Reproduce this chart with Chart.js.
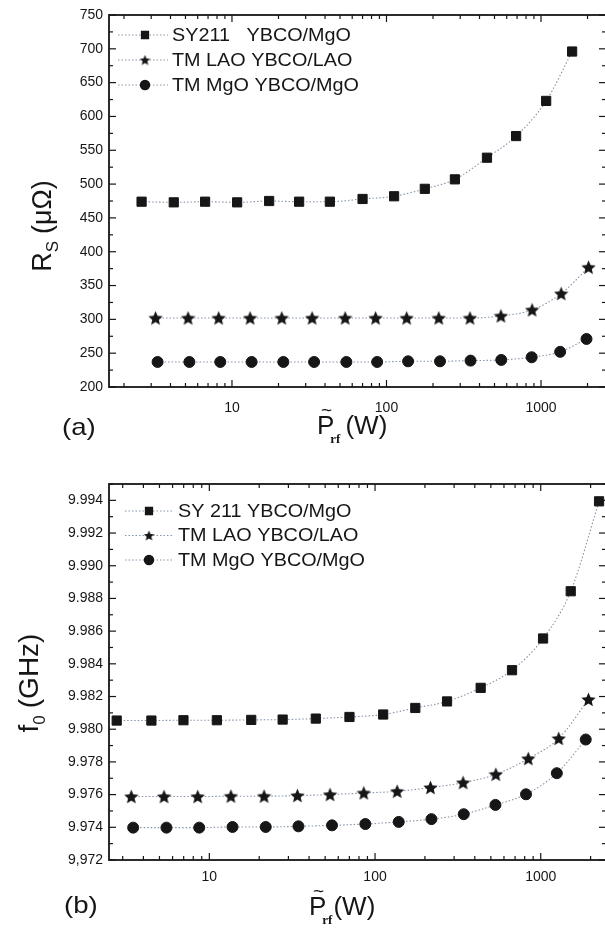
<!DOCTYPE html>
<html>
<head>
<meta charset="utf-8">
<script src="https://cdn.jsdelivr.net/npm/chart.js@4.4.1/dist/chart.umd.min.js"></script>
<style>
    html, body { margin: 0; padding: 0; background: #fff; width: 605px; height: 933px; overflow: hidden; }
    .panel { position: absolute; left: 0; }
    #rsBox { top: 0; }
    #f0Box { top: 460px; }
</style>
</head>
<body>
<div class="panel" id="rsBox"><canvas id="rsChart" width="620" height="460"></canvas></div>
<div class="panel" id="f0Box"><canvas id="f0Chart" width="620" height="473"></canvas></div>
<script>
// (a) surface resistance vs rf power
const rsPowerSY  = [2.6, 4.2, 6.7, 10.8, 17.4, 27.2, 43, 70, 112, 177, 277, 447, 690, 1080, 1590];
const rsSY       = [474, 473, 474, 473, 475, 474, 474, 478, 482, 493, 507, 539, 571, 623, 696];
const rsPowerLAO = [3.2, 5.2, 8.2, 13.1, 21, 33, 54, 85, 135, 218, 347, 550, 876, 1350, 2030];
const rsLAO      = [302, 302, 302, 302, 302, 302, 302, 302, 302, 302, 302, 305, 314, 338, 377];
const rsPowerMgO = [3.3, 5.3, 8.4, 13.4, 21.5, 34, 55, 87, 138, 222, 350, 553, 870, 1330, 1970];
const rsMgO      = [237, 237, 237, 237, 237, 237, 237, 237, 238, 238, 239, 240, 244, 252, 271];

// (b) resonant frequency vs rf power
const f0PowerSY  = [2.76, 4.47, 6.98, 11.1, 17.9, 27.7, 43.9, 70.1, 112, 175, 272, 434, 671, 1033, 1517, 2249];
const f0SY       = [9.98053, 9.98053, 9.98055, 9.98055, 9.98057, 9.98059, 9.98065, 9.98075, 9.9809, 9.9813, 9.9817, 9.98253, 9.98361, 9.98555, 9.98844, 9.99394];
const f0PowerLAO = [3.38, 5.33, 8.51, 13.5, 21.4, 34.0, 53.5, 85.5, 136, 216, 340, 536, 841, 1284, 1941];
const f0LAO      = [9.97588, 9.97588, 9.97588, 9.9759, 9.9759, 9.97594, 9.976, 9.9761, 9.9762, 9.97643, 9.97673, 9.97724, 9.9782, 9.97943, 9.98182];
const f0PowerMgO = [3.47, 5.51, 8.69, 13.8, 21.9, 34.5, 55.0, 87.4, 139, 219, 343, 533, 815, 1251, 1869];
const f0MgO      = [9.97398, 9.97398, 9.97398, 9.97402, 9.97402, 9.97406, 9.97412, 9.9742, 9.97433, 9.9745, 9.9748, 9.97537, 9.97602, 9.97731, 9.97937];

const xTicks = [10, 100, 1000];
const xTickLabels = ['10', '100', '1000'];
const rsTicks = [200, 250, 300, 350, 400, 450, 500, 550, 600, 650, 700, 750];
const rsTickLabels = ['200', '250', '300', '350', '400', '450', '500', '550', '600', '650', '700', '750'];
const f0Ticks = [9.972, 9.974, 9.976, 9.978, 9.980, 9.982, 9.984, 9.986, 9.988, 9.990, 9.992, 9.994];
const f0TickLabels = ['9,972', '9.974', '9.976', '9.978', '9.980', '9.982', '9.984', '9.986', '9.988', '9.990', '9.992', '9.994'];
const rsLegend = ['SY211   YBCO/MgO', 'TM LAO YBCO/LAO', 'TM MgO YBCO/MgO'];
const f0Legend = ['SY 211 YBCO/MgO', 'TM LAO YBCO/LAO', 'TM MgO YBCO/MgO'];

const SANS = '"Liberation Sans", Arial, Helvetica, sans-serif';
const SERIF = '"Liberation Serif", "Times New Roman", serif';
const INK = '#161616';
const LINK = '#8494aa';

function makeStar(size) {
    const c = document.createElement('canvas');
    c.width = size; c.height = size;
    const g = c.getContext('2d');
    const cx = size / 2, cy = size / 2 + size * 0.04, R = size / 2, r = R * 0.46;
    g.beginPath();
    for (let i = 0; i < 10; i++) {
        const a = -Math.PI / 2 + i * Math.PI / 5;
        const rad = i % 2 ? r : R;
        g.lineTo(cx + rad * Math.cos(a), cy + rad * Math.sin(a));
    }
    g.closePath();
    g.fillStyle = INK;
    g.fill();
    return c;
}

const starBig = makeStar(15);
const starSmall = makeStar(11);

function line(ctx, x1, y1, x2, y2) {
    ctx.beginPath(); ctx.moveTo(x1, y1); ctx.lineTo(x2, y2); ctx.stroke();
}

// text squeezed or stretched along x, the way the original figure was scaled
function wideText(ctx, txt, x, y, sx) {
    ctx.save();
    ctx.translate(x, y);
    ctx.scale(sx, 1);
    ctx.fillText(txt, 0, 0);
    ctx.restore();
}

// draws a run of text pieces; sub pieces shifted down (in text direction)
function drawRun(ctx, parts, x, y) {
    let cx = x;
    parts.forEach(p => {
        ctx.font = p.font;
        ctx.fillText(p.t, cx, y + (p.dy || 0));
        cx += ctx.measureText(p.t).width + (p.gap || 0);
    });
    return cx;
}
function runWidth(ctx, parts) {
    let w = 0;
    parts.forEach(p => { ctx.font = p.font; w += ctx.measureText(p.t).width + (p.gap || 0); });
    return w;
}

const decor = {
    id: 'decor',
    afterDraw(chart, args, o) {
        const { ctx, chartArea: a, scales: { x, y } } = chart;
        ctx.save();
        ctx.strokeStyle = INK;
        ctx.fillStyle = INK;

        // frame
        ctx.lineWidth = 1.8;
        ctx.strokeRect(a.left, a.top, a.right - a.left, a.bottom - a.top);

        // log ticks on bottom and top
        ctx.lineWidth = 1.2;
        for (let e = Math.floor(Math.log10(x.min)); e <= Math.ceil(Math.log10(x.max)); e++) {
            for (let k = 1; k <= 9; k++) {
                const v = k * Math.pow(10, e);
                if (v < x.min || v > x.max) continue;
                const px = x.getPixelForValue(v);
                const len = k === 1 ? 7 : 4;
                line(ctx, px, a.bottom, px, a.bottom - len);
                line(ctx, px, a.top, px, a.top + len);
            }
        }
        // linear ticks on left and right
        const n = Math.round((y.max - y.min) / o.yStep);
        for (let i = 0; i <= n; i++) {
            const py = y.getPixelForValue(y.min + i * o.yStep);
            const len = i % 2 === 0 ? 7 : 4;
            line(ctx, a.left, py, a.left + len, py);
            line(ctx, a.right, py, a.right - len, py);
        }

        // y title, rotated
        ctx.save();
        ctx.translate(o.yTitle.x, o.yTitle.y);
        ctx.rotate(-Math.PI / 2);
        ctx.textBaseline = 'alphabetic';
        const w = runWidth(ctx, o.yTitle.parts);
        drawRun(ctx, o.yTitle.parts, -w / 2, 0);
        ctx.restore();

        // x title with tilde over P
        ctx.textBaseline = 'alphabetic';
        const t = o.xTitle;
        ctx.font = t.big;
        const pw = ctx.measureText('P').width;
        ctx.fillText('P', t.x, t.y);
        ctx.font = '19px ' + SANS;
        ctx.textAlign = 'center';
        ctx.fillText('~', t.x + pw / 2 + 1, t.y - 18);
        ctx.textAlign = 'left';
        ctx.font = 'bold 13px ' + SERIF;
        ctx.fillText('rf', t.x + pw - 4, t.y + 9);
        const rw = ctx.measureText('rf').width;
        ctx.font = t.big;
        ctx.fillText(t.unit, t.x + pw - 4 + rw + t.gap, t.y);

        // panel label
        ctx.font = '24px ' + SANS;
        wideText(ctx, o.panel.t, o.panel.x, o.panel.y, 1.15);

        // legend
        const L = o.legend;
        ctx.font = '18px ' + SANS;
        ctx.textBaseline = 'middle';
        chart.data.datasets.forEach((ds, i) => {
            const ry = L.y + i * L.dy;
            ctx.save();
            ctx.strokeStyle = LINK;
            ctx.lineWidth = 1;
            ctx.setLineDash([1.5, 2]);
            line(ctx, L.x0, ry, L.x1, ry);
            ctx.restore();
            if (i === 1) {
                ctx.drawImage(starSmall, L.mx - 5.5, ry - 5.5);
            } else {
                Chart.helpers.drawPoint(ctx, {
                    pointStyle: ds.pointStyle, radius: i === 0 ? 5 : 4.6, borderWidth: 1
                }, L.mx, ry);
                ctx.fill();
            }
            ctx.fillStyle = INK;
            wideText(ctx, ds.label, L.tx, ry + 1, 1.1);
        });
        ctx.restore();
    }
};

function series(px, py, label, style, radius) {
    return {
        label: label,
        data: px.map((p, i) => ({ x: p, y: py[i] })),
        pointStyle: style,
        pointRadius: radius,
        pointBackgroundColor: INK,
        pointBorderColor: INK,
        pointBorderWidth: 1,
        borderColor: LINK,
        borderWidth: 1.1,
        borderDash: [1.5, 2],
        cubicInterpolationMode: 'monotone',
        clip: false
    };
}

function buildChart(id, cfg) {
    const tickFont = { family: SANS, size: 14 };
    return new Chart(document.getElementById(id), {
        type: 'line',
        data: { datasets: cfg.datasets },
        options: {
            responsive: false,
            animation: false,
            events: [],
            layout: { padding: cfg.padding },
            plugins: {
                legend: { display: false },
                tooltip: { enabled: false },
                decor: cfg.decor
            },
            scales: {
                x: {
                    type: 'logarithmic',
                    bounds: 'data',
                    min: cfg.xMin,
                    max: cfg.xMax,
                    afterBuildTicks: s => { s.ticks = xTicks.map(v => ({ value: v })); },
                    afterFit: s => { s.height = 40; },
                    grid: { display: false, drawTicks: false },
                    border: { display: false },
                    ticks: {
                        autoSkip: false, maxRotation: 0, padding: cfg.xPad,
                        font: tickFont, color: INK,
                        callback: v => xTickLabels[xTicks.indexOf(v)]
                    }
                },
                y: {
                    type: 'linear',
                    bounds: 'data',
                    min: cfg.yMin,
                    max: cfg.yMax,
                    afterBuildTicks: s => { s.ticks = cfg.yTicks.map(v => ({ value: v })); },
                    afterFit: s => { s.width = 60; },
                    grid: { display: false, drawTicks: false },
                    border: { display: false },
                    ticks: {
                        autoSkip: false, padding: 6,
                        font: tickFont, color: INK,
                        callback: (v, i) => cfg.yTickLabels[i]
                    }
                }
            }
        },
        plugins: [decor]
    });
}

buildChart('rsChart', {
    datasets: [
        series(rsPowerSY, rsSY, rsLegend[0], 'rect', 6.5),
        series(rsPowerLAO, rsLAO, rsLegend[1], starBig, 7.5),
        series(rsPowerMgO, rsMgO, rsLegend[2], 'circle', 5.5)
    ],
    padding: { left: 49, top: 15, right: 14, bottom: 33 },
    xMin: 1.6, xMax: 2634, xPad: 13,
    yMin: 200, yMax: 750, yTicks: rsTicks, yTickLabels: rsTickLabels,
    decor: {
        yStep: 25,
        yTitle: {
            x: 51, y: 226,
            parts: [
                { t: 'R', font: '27px ' + SANS },
                { t: 'S', font: '17px ' + SANS, dy: 7, gap: 7 },
                { t: '(\u03bc\u03a9)', font: '27px ' + SANS }
            ]
        },
        xTitle: { x: 317, y: 434, big: '26px ' + SANS, unit: '(W)', gap: 5 },
        panel: { t: '(a)', x: 62, y: 435 },
        legend: { y: 35, dy: 25, x0: 118, x1: 168, mx: 145, tx: 172 }
    }
});

buildChart('f0Chart', {
    datasets: [
        series(f0PowerSY, f0SY, f0Legend[0], 'rect', 6.5),
        series(f0PowerLAO, f0LAO, f0Legend[1], starBig, 7.5),
        series(f0PowerMgO, f0MgO, f0Legend[2], 'circle', 5.5)
    ],
    padding: { left: 49, top: 24, right: 14, bottom: 33 },
    xMin: 2.48, xMax: 2477, xPad: 9,
    yMin: 9.972, yMax: 9.995, yTicks: f0Ticks, yTickLabels: f0TickLabels,
    decor: {
        yStep: 0.001,
        yTitle: {
            x: 38, y: 223,
            parts: [
                { t: 'f', font: '28px ' + SANS },
                { t: '0', font: '17px ' + SANS, dy: 7, gap: 7 },
                { t: '(GHz)', font: '28px ' + SANS }
            ]
        },
        xTitle: { x: 309, y: 455, big: '26px ' + SANS, unit: '(W)', gap: 1 },
        panel: { t: '(b)', x: 64, y: 453 },
        legend: { y: 51, dy: 24.5, x0: 125, x1: 174, mx: 149, tx: 178 }
    }
});
</script>
</body>
</html>
